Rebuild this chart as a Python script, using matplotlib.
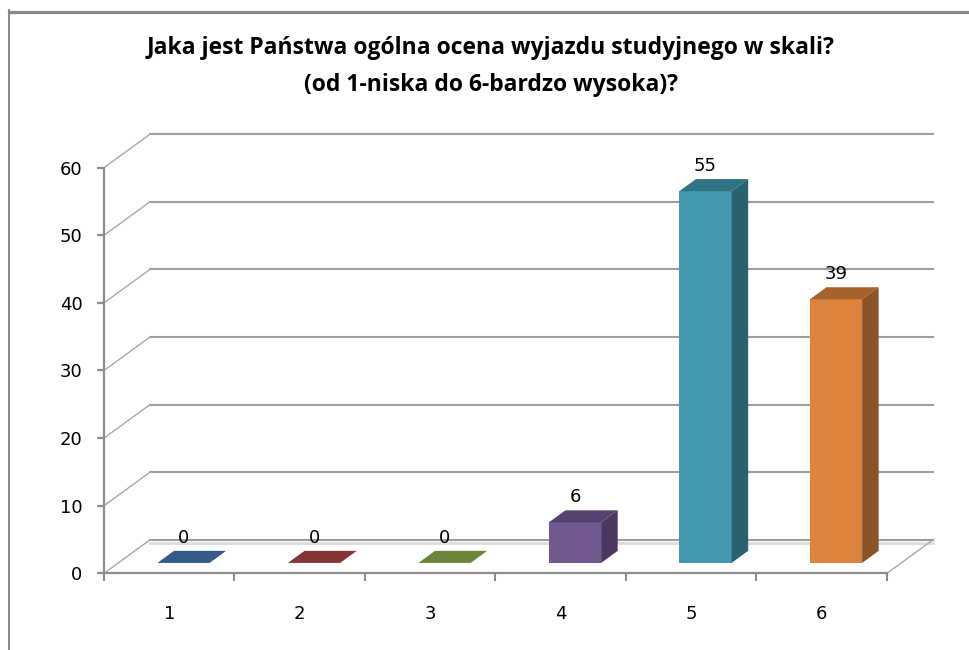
import matplotlib
matplotlib.use('Agg')
import matplotlib.pyplot as plt
from matplotlib.patches import Polygon
from matplotlib.lines import Line2D

# ---- data ----
categories = ['1', '2', '3', '4', '5', '6']
values = [0, 0, 0, 6, 55, 39]
y_ticks = [0, 10, 20, 30, 40, 50, 60]
title_line1 = 'Jaka jest Państwa ogólna ocena wyjazdu studyjnego w skali?'
title_line2 = '(od 1-niska do 6-bardzo wysoka)?'

front_colors = ['#4A7EBB', '#BE4B48', '#98B954', '#71588F', '#4398AF', '#DC843E']
top_colors = ['#345A87', '#843432', '#6B853A', '#574370', '#2F7384', '#A8632C']
side_colors = ['#2C4D74', '#722C2B', '#5B7132', '#4A3860', '#2A6271', '#8B5329']

W, H = 970, 650
fig = plt.figure(figsize=(W / 100, H / 100), dpi=100)
fig.patch.set_facecolor('white')

# front plane of the plot area in pixels
x0_px, x1_px = 104, 887
y0_px, y60_px = 573.3, 167.7
ax = fig.add_axes([x0_px / W, (H - y0_px) / H, (x1_px - x0_px) / W, (y0_px - y60_px) / H])
n = len(categories)
ax.set_xlim(0.5, n + 0.5)
ax.set_ylim(0, y_ticks[-1])
ax.set_facecolor('none')

px_x = (x1_px - x0_px) / n
px_y = (y0_px - y60_px) / y_ticks[-1]
Dx, Dy = 46 / px_x, 33.5 / px_y          # full depth of the 3D box
f0, fd = 0.31, 0.36                       # bar front offset and bar depth (fractions)
bw = 0.40
grid_c = '#9C9C9C'
axis_c = '#8C8C8C'

# back wall gridlines + left wall diagonals
for v in y_ticks:
    ax.add_line(Line2D([0.5 + Dx, n + 0.5 + Dx], [v + Dy, v + Dy], color=grid_c, lw=1.5,
                       clip_on=False, zorder=1))
    ax.add_line(Line2D([0.5, 0.5 + Dx], [v, v + Dy], color='#A8A8A8', lw=1.0,
                       clip_on=False, zorder=1))
# floor
ax.add_line(Line2D([0.5 + Dx, n + 0.5 + Dx], [Dy - 0.45, Dy - 0.45], color='#DCDCDC', lw=2.0,
                   clip_on=False, zorder=0.9))
ax.add_line(Line2D([n + 0.5, n + 0.5 + Dx], [0, Dy], color='#A8A8A8', lw=1.0,
                   clip_on=False, zorder=1))

xs = [i + 1 for i in range(n)]
bx = [x + f0 * Dx for x in xs]
by = f0 * Dy
ddx, ddy = fd * Dx, fd * Dy

ax.bar(bx, values, width=bw, bottom=by, color=front_colors, edgecolor='none', zorder=3)
for x, v, tc, sc in zip(bx, values, top_colors, side_colors):
    l, r = x - bw / 2, x + bw / 2
    top = by + v
    ax.add_patch(Polygon([(l, top), (r, top), (r + ddx, top + ddy), (l + ddx, top + ddy)],
                         closed=True, facecolor=tc, edgecolor='none', zorder=4, clip_on=False))
    if v > 0:
        ax.add_patch(Polygon([(r, by), (r, top), (r + ddx, top + ddy), (r + ddx, by + ddy)],
                             closed=True, facecolor=sc, edgecolor='none', zorder=4, clip_on=False))
    ax.annotate(str(v), xy=(x, top), xytext=(0, 25), textcoords='offset pixels',
                ha='center', va='center', fontsize=13, color='black', zorder=5,
                annotation_clip=False)

# axes styling
for s in ['top', 'right']:
    ax.spines[s].set_visible(False)
for s in ['left', 'bottom']:
    ax.spines[s].set_color(axis_c)
    ax.spines[s].set_linewidth(1.6)
ax.set_yticks(y_ticks)
ax.set_yticklabels([str(v) for v in y_ticks])
ax.tick_params(axis='y', length=5, width=1.6, color=axis_c, pad=10.5, labelsize=13)
ax.set_xticks(xs)
ax.set_xticklabels(categories)
ax.set_xticks([i + 0.5 for i in range(n + 1)], minor=True)
ax.tick_params(axis='x', which='major', length=0, pad=23, labelsize=13)
ax.tick_params(axis='x', which='minor', length=6, width=1.5, color=axis_c)

# title
fig.text(491 / W, 1 - 48 / H, title_line1, ha='center', va='center',
         fontsize=16.5, fontweight='bold', family=['Open Sans', 'DejaVu Sans'])
fig.text(491 / W, 1 - 85 / H, title_line2, ha='center', va='center',
         fontsize=16.5, fontweight='bold', family=['Open Sans', 'DejaVu Sans'])

# chart border (top and left visible)
fig.add_artist(Line2D([9 / W, 1], [1 - 11.5 / H, 1 - 11.5 / H], transform=fig.transFigure,
                      color='#888888', lw=2.3))
fig.add_artist(Line2D([9.5 / W, 9.5 / W], [1 - 10 / H, 0], transform=fig.transFigure,
                      color='#888888', lw=1.4))

fig.savefig('out.png', dpi=100, facecolor='white')
